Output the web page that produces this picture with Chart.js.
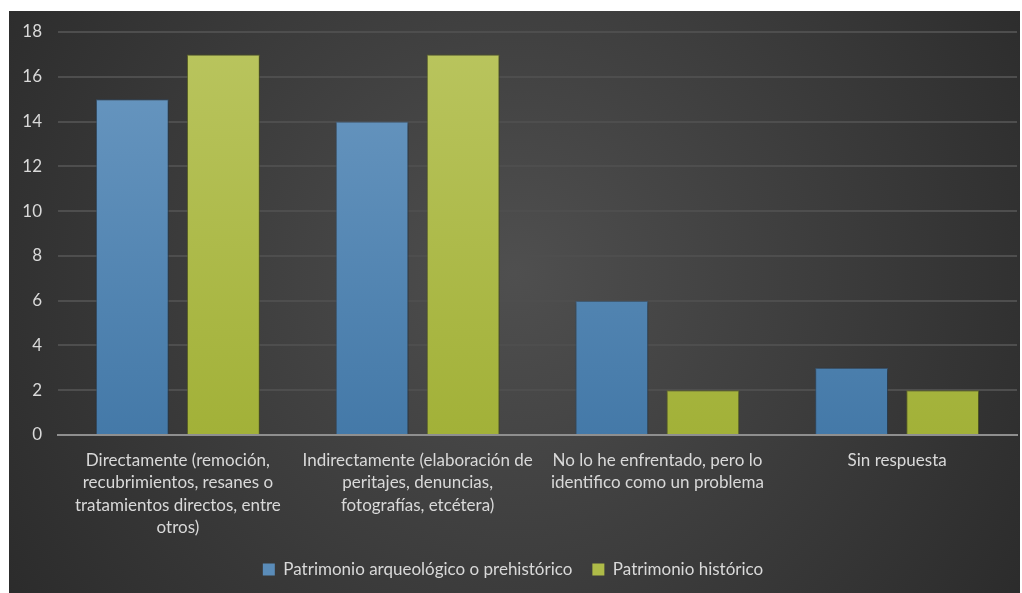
<!DOCTYPE html>
<html>
<head>
<meta charset="utf-8">
<script src="https://cdn.jsdelivr.net/npm/chart.js@4"></script>
<style>
  html, body { margin: 0; padding: 0; background: #ffffff; }
  #wrap { position: absolute; left: 9px; top: 11px; width: 1011px; height: 582px; }
</style>
</head>
<body>
<div id="wrap"><canvas id="chart"></canvas></div>
<script>
const categories = [
  ['Directamente (remoción,', 'recubrimientos, resanes o', 'tratamientos directos, entre', 'otros)'],
  ['Indirectamente (elaboración de', 'peritajes, denuncias,', 'fotografías, etcétera)'],
  ['No lo he enfrentado, pero lo', 'identifico como un problema'],
  ['Sin respuesta']
];
const seriesNames = ['Patrimonio arqueológico o prehistórico', 'Patrimonio histórico'];
const arqueologico = [15, 14, 6, 3];
const historico = [17, 17, 2, 2];
const yTicks = [0, 2, 4, 6, 8, 10, 12, 14, 16, 18];

const textColor = '#d9d9d9';
const fontFamily = 'Lato, "Open Sans", sans-serif';

// gradient for bars, lighter at top
function barGradient(top, bottom) {
  return (ctx) => {
    const area = ctx.chart.chartArea;
    if (!area) return bottom;
    const g = ctx.chart.ctx.createLinearGradient(0, area.top, 0, area.bottom);
    g.addColorStop(0, top);
    g.addColorStop(1, bottom);
    return g;
  };
}

const background = {
  id: 'background',
  beforeDraw(chart) {
    const { ctx, width, height } = chart;
    const g = ctx.createRadialGradient(width * 0.5, height * 0.45, 0, width * 0.5, height * 0.45, width * 0.6);
    g.addColorStop(0, '#4f4f4f');
    g.addColorStop(1, '#2b2b2b');
    ctx.save();
    ctx.fillStyle = g;
    ctx.fillRect(0, 0, width, height);
    ctx.restore();
  }
};

const barShadow = {
  id: 'barShadow',
  beforeDatasetsDraw(chart) {
    const ctx = chart.ctx;
    ctx.save();
    ctx.shadowColor = 'rgba(0,0,0,0.45)';
    ctx.shadowBlur = 4;
    ctx.shadowOffsetX = 1;
    ctx.shadowOffsetY = 1;
  },
  afterDatasetsDraw(chart) {
    chart.ctx.restore();
  }
};

new Chart(document.getElementById('chart'), {
  type: 'bar',
  data: {
    labels: categories,
    datasets: [
      {
        label: seriesNames[0],
        data: arqueologico,
        backgroundColor: barGradient('#6b99c2', '#4479a8'),
        borderColor: 'rgba(60,100,140,0.6)',
        borderWidth: 1
      },
      {
        label: seriesNames[1],
        data: historico,
        backgroundColor: barGradient('#bac55f', '#a2b138'),
        borderColor: 'rgba(130,140,40,0.6)',
        borderWidth: 1
      }
    ]
  },
  options: {
    responsive: true,
    maintainAspectRatio: false,
    animation: false,
    devicePixelRatio: 1,
    categoryPercentage: 0.76,
    barPercentage: 0.8,
    layout: { padding: { top: 21, right: 3, bottom: 5, left: 0 } },
    plugins: {
      legend: {
        position: 'bottom',
        labels: {
          color: textColor,
          font: { family: fontFamily, size: 17 },
          boxWidth: 12,
          boxHeight: 12,
          padding: 20,
          generateLabels(chart) {
            const fills = ['#5a8cb9', '#aebb48'];
            return chart.data.datasets.map((ds, i) => ({
              text: ds.label,
              fillStyle: fills[i],
              strokeStyle: fills[i],
              lineWidth: 0,
              fontColor: textColor,
              datasetIndex: i
            }));
          }
        }
      },
      tooltip: { enabled: false }
    },
    scales: {
      x: {
        grid: { display: false },
        border: { color: '#8f8f8f', width: 2 },
        ticks: {
          color: textColor,
          font: { family: fontFamily, size: 17, lineHeight: 1.32 },
          maxRotation: 0,
          autoSkip: false,
          padding: 6
        },
        afterFit(scale) { scale.height = 106; }
      },
      y: {
        min: 0,
        max: 18,
        afterBuildTicks(scale) { scale.ticks = yTicks.map(v => ({ value: v })); },
        grid: {
          color: (c) => (c.tick && c.tick.value === 0) ? '#8f8f8f' : '#4e4e4e',
          lineWidth: 2,
          drawTicks: false
        },
        border: { display: false },
        ticks: {
          color: textColor,
          font: { family: fontFamily, size: 17 },
          padding: 16
        },
        afterFit(scale) {
          scale.width = 49;
          // tick padding would otherwise push the plot top down
          scale.paddingTop = 10;
          scale.paddingBottom = 10;
        }
      }
    }
  },
  plugins: [background, barShadow]
});
</script>
</body>
</html>
